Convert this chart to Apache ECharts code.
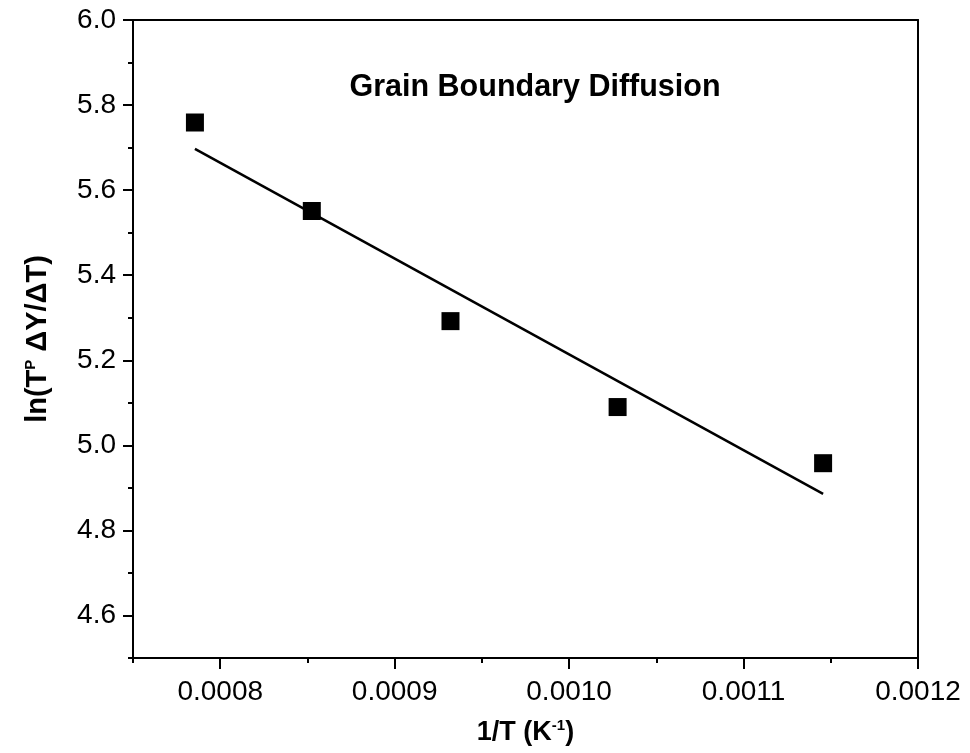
<!DOCTYPE html>
<html>
<head>
<meta charset="utf-8">
<script src="https://cdn.jsdelivr.net/npm/echarts@6/dist/echarts.min.js"></script>
<style>html,body{margin:0;padding:0;background:#fff;}#c{width:970px;height:753px;}</style>
</head>
<body>
<div id="c"></div>
<script>
// Data
var invT = [0.0007855, 0.0008525, 0.000932, 0.0010278, 0.0011456];
var lnVals = [5.759, 5.551, 5.292, 5.090, 4.958];
// linear fit line end values
var fitX = [0.0007855, 0.0011456];
var fitY = [5.697, 4.886];
// tick values
var xMajor = [0.0008, 0.0009, 0.0010, 0.0011, 0.0012];
var xMinor = [0.00075, 0.00085, 0.00095, 0.00105, 0.00115];
var yMajor = [4.6, 4.8, 5.0, 5.2, 5.4, 5.6, 5.8, 6.0];
var yMinor = [4.5, 4.7, 4.9, 5.1, 5.3, 5.5, 5.7, 5.9];
var titleText = 'Grain Boundary Diffusion';

var pts = invT.map(function (x, i) { return [x, lnVals[i]]; });
var fit = fitX.map(function (x, i) { return [x, fitY[i]]; });

var FONT = '"Liberation Sans", Arial, sans-serif';
var lineStyle = { color: '#000', width: 2 };

var chart = echarts.init(document.getElementById('c'), null, { renderer: 'canvas' });
chart.setOption({
  animation: false,
  backgroundColor: '#fff',
  title: {
    text: titleText,
    left: 530, top: 67, textAlign: 'center',
    textStyle: { fontFamily: FONT, fontWeight: 'bold', fontSize: 30.5, color: '#000' }
  },
  grid: { left: 133, right: 52, top: 20, bottom: 95, containLabel: false },
  xAxis: [
    {
      type: 'value', min: 0.00075, max: 0.0012, position: 'bottom',
      axisLine: { show: true, lineStyle: lineStyle },
      axisTick: { show: true, customValues: xMajor, length: 11, lineStyle: lineStyle },
      axisLabel: {
        customValues: xMajor, margin: 20, fontFamily: FONT, fontSize: 28, color: '#000',
        formatter: function (v) { return v.toFixed(4); }
      },
      splitLine: { show: false },
      name: '{b|1/T (K}{s|-1}{b|)}', nameLocation: 'middle', nameGap: 60,
      nameTextStyle: {
        rich: {
          b: { fontFamily: FONT, fontWeight: 'bold', fontSize: 27, color: '#000' },
          s: { fontFamily: FONT, fontWeight: 'bold', fontSize: 15, color: '#000', padding: [0, 0, 14, 0] }
        }
      }
    },
    {
      type: 'value', min: 0.00075, max: 0.0012, position: 'bottom',
      axisLine: { show: false },
      axisTick: { show: true, customValues: xMinor, length: 5, lineStyle: lineStyle },
      axisLabel: { show: false },
      splitLine: { show: false }
    },
    {
      type: 'value', min: 0.00075, max: 0.0012, position: 'top',
      axisLine: { show: true, lineStyle: lineStyle },
      axisTick: { show: false }, axisLabel: { show: false }, splitLine: { show: false }
    }
  ],
  yAxis: [
    {
      type: 'value', min: 4.5, max: 6.0, position: 'left',
      axisLine: { show: true, lineStyle: lineStyle },
      axisTick: { show: true, customValues: yMajor, length: 10, lineStyle: lineStyle },
      axisLabel: {
        customValues: yMajor, margin: 17, fontFamily: FONT, fontSize: 28, color: '#000',
        formatter: function (v) { return v.toFixed(1); }
      },
      splitLine: { show: false },
      name: '{b|ln(T}{s|P}{b| ΔY/ΔT)}', nameLocation: 'middle', nameGap: 81, nameRotate: 90,
      nameTextStyle: {
        rich: {
          b: { fontFamily: FONT, fontWeight: 'bold', fontSize: 29, color: '#000' },
          s: { fontFamily: FONT, fontWeight: 'bold', fontSize: 15, color: '#000', padding: [0, 0, 14, 0] }
        }
      }
    },
    {
      type: 'value', min: 4.5, max: 6.0, position: 'left',
      axisLine: { show: false },
      axisTick: { show: true, customValues: yMinor, length: 5, lineStyle: lineStyle },
      axisLabel: { show: false },
      splitLine: { show: false }
    },
    {
      type: 'value', min: 4.5, max: 6.0, position: 'right',
      axisLine: { show: true, lineStyle: lineStyle },
      axisTick: { show: false }, axisLabel: { show: false }, splitLine: { show: false }
    }
  ],
  series: [
    {
      type: 'line', xAxisIndex: 0, yAxisIndex: 0, data: fit,
      showSymbol: false, symbol: 'none',
      lineStyle: { color: '#000', width: 2.5 }, z: 2
    },
    {
      type: 'scatter', xAxisIndex: 0, yAxisIndex: 0, data: pts,
      symbol: 'rect', symbolSize: 18,
      itemStyle: { color: '#000', opacity: 1 }, z: 3
    }
  ]
});
</script>
</body>
</html>
